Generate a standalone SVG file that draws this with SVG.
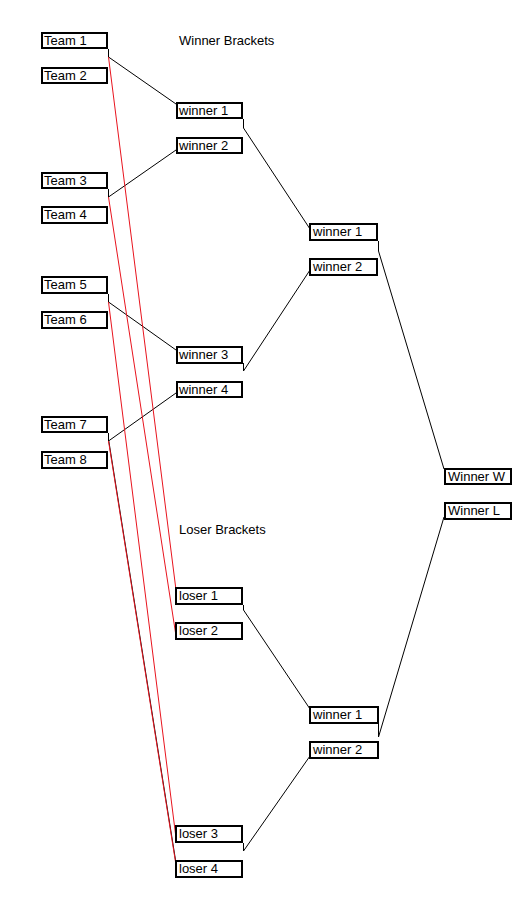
<svg xmlns="http://www.w3.org/2000/svg" width="528" height="901" viewBox="0 0 528 901">
<style>
.box rect{fill:#fff;stroke:#000;stroke-width:2}
.box text,.title{font-family:"Liberation Sans",Arial,sans-serif;font-size:13px;fill:#000}
.c line{stroke:#000;stroke-width:1;fill:none}
.c line.r{stroke:#e8141e}
</style>
<rect width="528" height="901" fill="#fff"/>
<text class="title" x="179" y="45">Winner Brackets</text>
<text class="title" x="179" y="534">Loser Brackets</text>
<g class="c" id="connectors">
<line x1="108.5" y1="49" x2="108.5" y2="57"/>
<line x1="108.5" y1="57" x2="176" y2="104"/>
<line x1="108.5" y1="189" x2="108.5" y2="197"/>
<line x1="108.5" y1="197" x2="176" y2="150"/>
<line x1="108.5" y1="294" x2="108.5" y2="302"/>
<line x1="108.5" y1="302" x2="176" y2="350"/>
<line x1="108.5" y1="433" x2="108.5" y2="441"/>
<line x1="108.5" y1="441" x2="176" y2="393"/>
<line x1="243.5" y1="119" x2="243.5" y2="128"/>
<line x1="243.5" y1="128" x2="310" y2="229"/>
<line x1="243.5" y1="363" x2="243.5" y2="371"/>
<line x1="243.5" y1="371" x2="310" y2="270"/>
<line x1="378.5" y1="241" x2="378.5" y2="251"/>
<line x1="378.5" y1="251" x2="444" y2="469"/>
<line x1="243.5" y1="605" x2="243.5" y2="610"/>
<line x1="243.5" y1="610" x2="310" y2="709"/>
<line x1="243.5" y1="843" x2="243.5" y2="851"/>
<line x1="243.5" y1="851" x2="310" y2="756"/>
<line x1="378.5" y1="723" x2="378.5" y2="737"/>
<line x1="378.5" y1="737" x2="444" y2="517"/>
<line x1="108.8" y1="441" x2="176.3" y2="865"/>
<line class="r" x1="108.5" y1="57" x2="176" y2="590"/>
<line class="r" x1="108.5" y1="197" x2="176" y2="636"/>
<line class="r" x1="108.5" y1="302" x2="176" y2="838"/>
<line class="r" x1="108.5" y1="441" x2="176" y2="865"/>
</g>
<g class="box" id="team1"><rect x="42" y="33" width="65" height="15"/><text x="44" y="45">Team 1</text></g>
<g class="box" id="team2"><rect x="42" y="68" width="65" height="15"/><text x="44" y="80">Team 2</text></g>
<g class="box" id="team3"><rect x="42" y="173" width="65" height="15"/><text x="44" y="185">Team 3</text></g>
<g class="box" id="team4"><rect x="42" y="207" width="65" height="16"/><text x="44" y="219">Team 4</text></g>
<g class="box" id="team5"><rect x="42" y="277" width="65" height="16"/><text x="44" y="289">Team 5</text></g>
<g class="box" id="team6"><rect x="42" y="312" width="65" height="16"/><text x="44" y="324">Team 6</text></g>
<g class="box" id="team7"><rect x="42" y="417" width="65" height="15"/><text x="44" y="429">Team 7</text></g>
<g class="box" id="team8"><rect x="42" y="452" width="65" height="16"/><text x="44" y="464">Team 8</text></g>
<g class="box" id="wb-winner1"><rect x="177" y="103" width="65" height="15"/><text x="179" y="115">winner 1</text></g>
<g class="box" id="wb-winner2"><rect x="177" y="138" width="65" height="15"/><text x="179" y="150">winner 2</text></g>
<g class="box" id="wb-winner3"><rect x="177" y="347" width="65" height="16"/><text x="179" y="359">winner 3</text></g>
<g class="box" id="wb-winner4"><rect x="177" y="382" width="65" height="15"/><text x="179" y="394">winner 4</text></g>
<g class="box" id="wb-r2-winner1"><rect x="310" y="224" width="67" height="16"/><text x="313" y="236">winner 1</text></g>
<g class="box" id="wb-r2-winner2"><rect x="310" y="259" width="67" height="16"/><text x="313" y="271">winner 2</text></g>
<g class="box" id="winnerW"><rect x="445" y="469" width="66" height="15"/><text x="448" y="481">Winner W</text></g>
<g class="box" id="winnerL"><rect x="445" y="503" width="66" height="16"/><text x="448" y="515">Winner L</text></g>
<g class="box" id="loser1"><rect x="176" y="588" width="66" height="16"/><text x="179" y="600">loser 1</text></g>
<g class="box" id="loser2"><rect x="176" y="623" width="66" height="16"/><text x="179" y="635">loser 2</text></g>
<g class="box" id="loser3"><rect x="176" y="826" width="66" height="16"/><text x="179" y="838">loser 3</text></g>
<g class="box" id="loser4"><rect x="176" y="861" width="66" height="16"/><text x="179" y="873">loser 4</text></g>
<g class="box" id="lb-r2-winner1"><rect x="310" y="707" width="68" height="16"/><text x="313" y="719">winner 1</text></g>
<g class="box" id="lb-r2-winner2"><rect x="310" y="742" width="68" height="16"/><text x="313" y="754">winner 2</text></g>
</svg>
